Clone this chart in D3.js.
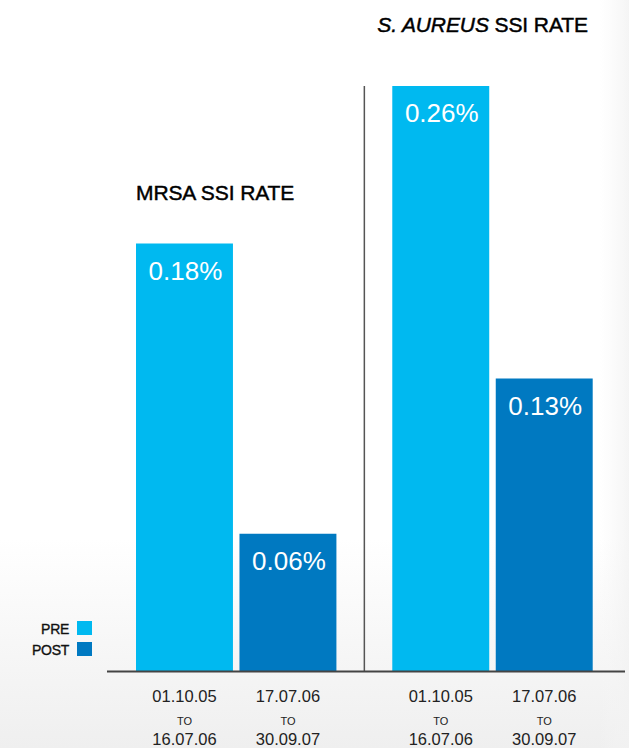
<!DOCTYPE html>
<html><head><meta charset="utf-8">
<script src="https://cdn.jsdelivr.net/npm/d3@7"></script>
<style>html,body{margin:0;padding:0;background:#fff}svg{display:block}</style>
</head><body><svg id="c" width="629" height="748"></svg>
<script>
const groups = ["MRSA", "S. AUREUS"];
const periods = ["PRE", "POST"];
const preValues = [0.19, 0.26];
const postValues = [0.061, 0.13];
const preLabels = ["0.18%", "0.26%"];
const postLabels = ["0.06%", "0.13%"];
const periodLine1 = ["01.10.05", "17.07.06"];
const periodLine2 = ["TO", "TO"];
const periodLine3 = ["16.07.06", "30.09.07"];
const colors = ["#00b9f0", "#0079c1"];

const svg = d3.select("#c");
const font = "'Liberation Sans', Arial, Helvetica, sans-serif";

// background
const defs = svg.append("defs");
const g1 = defs.append("linearGradient").attr("id","bgv").attr("x1",0).attr("x2",0).attr("y1",0).attr("y2",1);
g1.append("stop").attr("offset","0.72").attr("stop-color","#ffffff");
g1.append("stop").attr("offset","1").attr("stop-color","#efefef");
svg.append("rect").attr("width",629).attr("height",748).attr("fill","url(#bgv)");
const g2 = defs.append("linearGradient").attr("id","bgh").attr("x1",0).attr("x2",1).attr("y1",0).attr("y2",0);
g2.append("stop").attr("offset","0").attr("stop-color","#f6f6f6").attr("stop-opacity",0);
g2.append("stop").attr("offset","1").attr("stop-color","#f2f2f2").attr("stop-opacity",0.8);
svg.append("rect").attr("x",600).attr("width",29).attr("height",748).attr("fill","url(#bgh)");

const baseY = 671;
const y = d3.scaleLinear().domain([0, 0.26]).range([baseY, 86]);
const x0 = d3.scaleBand().domain(groups).range([136, 592.7]).paddingInner(0.218);
const x1 = d3.scaleBand().domain(periods).range([0, x0.bandwidth()]).paddingInner(0.063);

const data = groups.map((g, i) => ({
  group: g,
  items: [
    {period: "PRE", value: preValues[i], label: preLabels[i], color: colors[0], l1: periodLine1[0], l2: periodLine2[0], l3: periodLine3[0]},
    {period: "POST", value: postValues[i], label: postLabels[i], color: colors[1], l1: periodLine1[1], l2: periodLine2[1], l3: periodLine3[1]}
  ]
}));

const gg = svg.selectAll("g.grp").data(data).enter().append("g")
  .attr("class","grp").attr("transform", d => `translate(${x0(d.group)},0)`);

gg.selectAll("rect.bar").data(d => d.items).enter().append("rect")
  .attr("class","bar")
  .attr("x", d => x1(d.period)).attr("width", x1.bandwidth())
  .attr("y", d => y(d.value)).attr("height", d => baseY - y(d.value))
  .attr("fill", d => d.color);

gg.selectAll("text.val").data(d => d.items).enter().append("text")
  .attr("x", d => x1(d.period) + x1.bandwidth()/2 + 1)
  .attr("y", d => y(d.value) + 36)
  .attr("text-anchor","middle").attr("fill","#fff")
  .attr("font-family", font).attr("font-size", 26)
  .text(d => d.label);

const xl = gg.selectAll("g.xl").data(d => d.items).enter().append("g")
  .attr("transform", d => `translate(${x1(d.period) + x1.bandwidth()/2},0)`)
  .attr("font-family", font).attr("fill","#222").attr("text-anchor","middle");
xl.append("text").attr("y", 702).attr("font-size", 16.5).text(d => d.l1);
xl.append("text").attr("y", 725).attr("font-size", 11).text(d => d.l2);
xl.append("text").attr("y", 745).attr("font-size", 16.5).text(d => d.l3);

// divider
const divX = (x0(groups[0]) + x0.bandwidth() + x0(groups[1])) / 2;
svg.append("line").attr("x1", divX).attr("x2", divX).attr("y1", y(0.26)).attr("y2", baseY)
  .attr("stroke", "#555").attr("stroke-width", 1.5);

// baseline
svg.append("line").attr("x1", 107).attr("x2", 625).attr("y1", baseY + 0.5).attr("y2", baseY + 0.5)
  .attr("stroke", "#444").attr("stroke-width", 2);

// titles
svg.append("text").attr("x", x0(groups[0])).attr("y", 200)
  .attr("font-family", font).attr("font-size", 21).attr("fill", "#000")
  .attr("stroke", "#000").attr("stroke-width", 0.45).attr("letter-spacing", -0.1)
  .text("MRSA SSI RATE");
const t2 = svg.append("text").attr("x", x0(groups[1]) - 15).attr("y", 32)
  .attr("font-family", font).attr("font-size", 21).attr("fill", "#000")
  .attr("stroke", "#000").attr("stroke-width", 0.45).attr("letter-spacing", -0.1);
t2.append("tspan").attr("font-style", "italic").text("S. AUREUS");
t2.append("tspan").text(" SSI RATE");

// legend
const leg = svg.selectAll("g.leg").data(periods).enter().append("g")
  .attr("transform", (d, i) => `translate(0,${621 + i * 21})`);
leg.append("rect").attr("x", 77).attr("y", 0).attr("width", 15).attr("height", 14)
  .attr("fill", (d, i) => colors[i]);
leg.append("text").attr("x", 69).attr("y", 12.5).attr("text-anchor", "end")
  .attr("font-family", font).attr("font-size", 14).attr("fill", "#111")
  .attr("stroke", "#111").attr("stroke-width", 0.35).attr("letter-spacing", -0.3)
  .text(d => d);
</script></body></html>
